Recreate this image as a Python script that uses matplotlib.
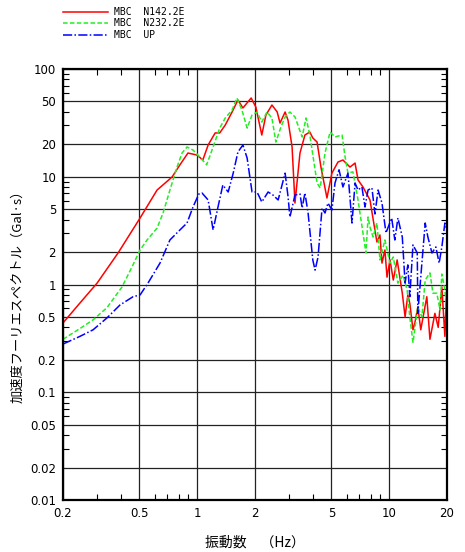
import matplotlib
matplotlib.use('Agg')
import matplotlib.pyplot as plt
from matplotlib.ticker import FixedLocator, FixedFormatter, LogLocator, NullFormatter

# --- data (frequency in Hz, amplitude in Gal*s) ---
red_f = [0.2, 0.245, 0.301, 0.387, 0.504, 0.618, 0.740, 0.813, 0.895, 0.998, 1.07, 1.14,
         1.24, 1.31, 1.40, 1.52, 1.63, 1.73, 1.91, 2.02, 2.17, 2.28, 2.45, 2.61, 2.70,
         2.87, 2.97, 3.12, 3.23, 3.43, 3.64, 3.86, 4.0, 4.21, 4.41, 4.74, 5.03, 5.41,
         5.74, 6.25, 6.64, 6.88, 7.30, 7.94, 8.34, 8.63, 8.95, 9.17, 9.50, 9.74, 10.1,
         10.5, 11.0, 11.7, 12.1, 12.5, 12.8, 13.3, 13.6, 14.1, 14.6, 15.7, 16.3, 17.3,
         18.0, 18.8, 19.5, 20.0]
red_v = [0.44, 0.673, 1.03, 1.96, 4.14, 7.53, 9.95, 12.9, 16.6, 15.9, 14.3, 19.7,
         25.5, 25.5, 30.2, 39.9, 51.5, 43.5, 53.8, 44.4, 24.4, 37.4, 46.3, 39.9, 31.5,
         39.9, 33.6, 18.9, 5.7, 16.6, 24.4, 26.0, 22.9, 21.0, 12.3, 6.35, 10.8, 13.7,
         14.3, 12.3, 13.4, 9.33, 8.04, 6.09, 3.57, 2.48, 2.88, 1.58, 2.09, 1.17, 1.69,
         1.10, 1.69, 0.83, 0.50, 0.80, 0.67, 0.38, 0.44, 0.62, 0.38, 0.77, 0.31, 0.54,
         0.40, 0.95, 0.33, 1.10]

green_f = [0.2, 0.245, 0.287, 0.339, 0.406, 0.457, 0.504, 0.548, 0.618, 0.664, 0.721,
           0.785, 0.834, 0.885, 0.951, 1.03, 1.12, 1.21, 1.31, 1.40, 1.52, 1.61, 1.71,
           1.82, 1.93, 2.05, 2.17, 2.31, 2.45, 2.57, 2.73, 2.87, 3.04, 3.23, 3.52, 3.69,
           3.86, 4.21, 4.37, 4.63, 4.92, 5.22, 5.68, 5.89, 6.10, 6.47, 6.88, 7.30, 7.57,
           7.76, 7.94, 8.24, 8.63, 8.95, 9.50, 10.1, 10.5, 11.1, 11.8, 12.4, 12.8, 13.3,
           14.1, 14.8, 15.4, 16.3, 16.9, 17.7, 18.4, 18.8, 19.5, 20.0]
green_v = [0.31, 0.39, 0.47, 0.61, 0.95, 1.45, 2.09, 2.59, 3.34, 4.61, 7.53,
           12.3, 16.6, 18.9, 17.7, 15.3, 12.9, 18.9, 28.3, 35.1, 41.6, 53.8, 41.6,
           28.3, 37.4, 39.9, 32.2, 39.9, 35.1, 21.0, 29.0, 35.9, 39.9, 35.9, 23.4, 35.1,
           24.4, 8.75, 7.87, 16.6, 26.0, 23.4, 24.4, 15.3, 10.8, 11.1, 6.09, 3.01, 1.96,
           4.23, 3.42, 2.76, 3.72, 1.69, 2.59, 1.58, 1.80, 1.03, 1.22, 0.89, 0.50, 0.29,
           0.62, 0.50, 1.10, 1.28, 0.83, 0.83, 0.58, 1.25, 0.89, 0.54]

blue_f = [0.2, 0.245, 0.287, 0.339, 0.396, 0.463, 0.504, 0.554, 0.640, 0.721, 0.813,
          0.885, 0.951, 1.02, 1.06, 1.14, 1.21, 1.28, 1.36, 1.45, 1.54, 1.63, 1.73,
          1.82, 1.93, 2.05, 2.17, 2.34, 2.48, 2.64, 2.87, 2.97, 3.04, 3.23, 3.43, 3.52,
          3.64, 3.78, 4.0, 4.11, 4.26, 4.47, 4.63, 4.80, 5.03, 5.22, 5.48, 5.74, 6.10,
          6.40, 6.64, 6.88, 7.21, 7.48, 7.76, 8.13, 8.43, 8.75, 9.17, 9.62, 10.3, 10.7,
          11.1, 11.7, 12.1, 12.5, 12.8, 13.3, 14.0, 14.1, 14.8, 15.4, 15.9, 16.7, 17.5,
          18.2, 18.8, 19.5, 20.0]
blue_v = [0.28, 0.33, 0.38, 0.49, 0.645, 0.77, 0.80, 1.03, 1.58, 2.59, 3.21,
          3.72, 5.24, 6.92, 7.06, 6.09, 3.21, 5.13, 8.38, 7.22, 10.8, 17.0, 19.7,
          14.9, 7.22, 7.22, 5.83, 7.22, 6.77, 6.09, 10.8, 6.63, 4.23, 6.77, 6.92, 5.13,
          7.06, 4.61, 1.69, 1.36, 1.80, 5.13, 4.61, 5.70, 4.91, 8.75, 11.6, 8.04, 10.8,
          3.72, 8.75, 7.53, 8.04, 5.24, 7.53, 7.87, 4.51, 7.53, 5.70, 3.01, 4.14, 2.59,
          4.14, 2.76, 1.03, 1.52, 0.77, 2.33, 1.96, 0.54, 1.58, 3.72, 2.76, 1.96, 2.23,
          1.58, 2.23, 3.72, 3.21]

labels = ['MBC  N142.2E', 'MBC  N232.2E', 'MBC  UP']

x_major = [0.2, 0.5, 1, 2, 5, 10, 20]
x_major_labels = ['0.2', '0.5', '1', '2', '5', '10', '20']
y_major = [0.01, 0.02, 0.05, 0.1, 0.2, 0.5, 1, 2, 5, 10, 20, 50, 100]
y_major_labels = ['0.01', '0.02', '0.05', '0.1', '0.2', '0.5', '1', '2', '5', '10', '20', '50', '100']

W, H = 465, 552
fig = plt.figure(figsize=(W / 100, H / 100), dpi=100)
ax = fig.add_axes([63 / W, 1 - 500 / H, (447 - 63) / W, (500 - 69) / H])

l1, = ax.plot(red_f, red_v, color='#ff0000', lw=1.1, label=labels[0])
l2, = ax.plot(green_f, green_v, color='#22ee22', lw=1.1, dashes=(3, 1.5), label=labels[1])
l3, = ax.plot(blue_f, blue_v, color='#0000ff', lw=1.1, dashes=(6, 1.5, 1, 1.5), label=labels[2])

ax.set_xscale('log')
ax.set_yscale('log')
ax.set_xlim(0.2, 20)
ax.set_ylim(0.01, 100)

ax.xaxis.set_major_locator(FixedLocator(x_major))
ax.xaxis.set_major_formatter(FixedFormatter(x_major_labels))
ax.yaxis.set_major_locator(FixedLocator(y_major))
ax.yaxis.set_major_formatter(FixedFormatter(y_major_labels))
ax.xaxis.set_minor_locator(LogLocator(base=10, subs=(1, 2, 3, 4, 5, 6, 7, 8, 9)))
ax.yaxis.set_minor_locator(LogLocator(base=10, subs=(1, 2, 3, 4, 5, 6, 7, 8, 9)))
ax.xaxis.set_minor_formatter(NullFormatter())
ax.yaxis.set_minor_formatter(NullFormatter())

ax.tick_params(which='both', direction='in', top=True, right=True, labelsize=8.5)
ax.tick_params(which='major', length=0, pad=5)
ax.tick_params(which='minor', length=4, width=0.8)
ax.grid(True, which='major', color='#222222', lw=0.9)
for s in ax.spines.values():
    s.set_linewidth(1.6)

cjk = ['Noto Sans CJK JP', 'DejaVu Sans']
fig.text(18 / W, 1 - 293 / H, '加速度フーリエスペクトル（Gal·s）', rotation=90,
         ha='center', va='center', fontsize=9.5, family=cjk)
fig.text(255 / W, 1 - 543 / H, '振動数　（Hz）', ha='center', va='center',
         fontsize=10, family=cjk)

fig.legend(handles=[l1, l2, l3], loc='upper left', bbox_to_anchor=(63 / W, 1 - 7 / H),
           frameon=False, borderpad=0, borderaxespad=0, handlelength=4.6,
           handletextpad=0.6, labelspacing=0.15,
           prop={'family': 'DejaVu Sans Mono', 'size': 7})

fig.savefig('out.png', dpi=100)
